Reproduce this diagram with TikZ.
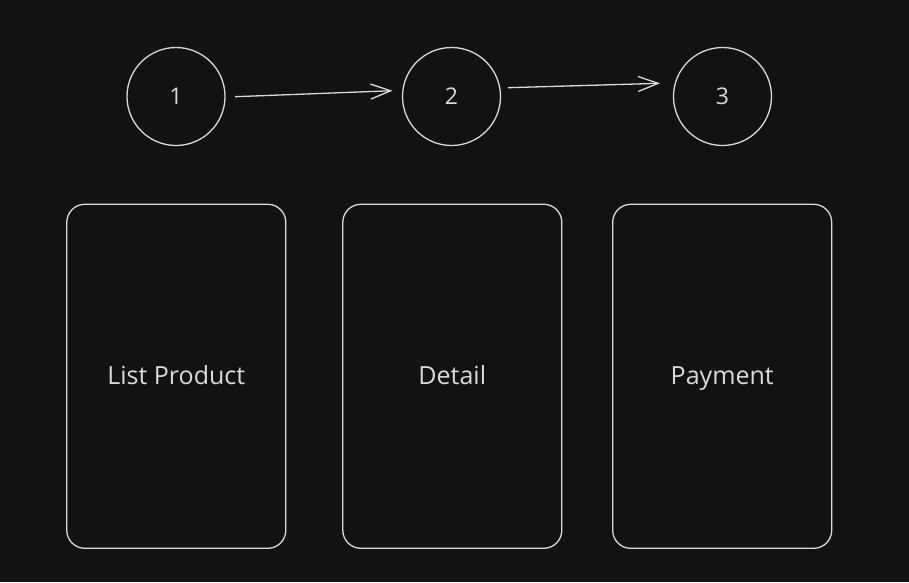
\documentclass[tikz,border=0pt]{standalone}
\usepackage{fontspec}
\setmainfont{Open Sans}
\usetikzlibrary{arrows.meta}
\definecolor{bg}{HTML}{121212}
\definecolor{ink}{HTML}{DADADA}
\begin{document}
\begin{tikzpicture}[x=1pt,y=-1pt,
  stepcircle/.style={draw=ink,line width=1.3pt,circle,minimum size=98pt,inner sep=0pt,text=ink,font=\fontsize{23}{27}\selectfont},
  screen/.style={draw=ink,line width=1.3pt,rounded corners=18pt,minimum width=219pt,minimum height=344pt,inner sep=0pt,text=ink,font=\fontsize{25}{30}\selectfont},
  label/.style={text=ink,font=\fontsize{25}{30}\selectfont,inner sep=0pt,anchor=base},
  flow/.style={draw=ink,line width=1.3pt,-{Straight Barb[length=20pt,width=15pt,line width=1.3pt]}}]
\fill[bg] (0,0) rectangle (909,582);
\useasboundingbox (0,0) rectangle (909,582);
\node[stepcircle] (c1) at (176,96.5) {1};
\node[stepcircle] (c2) at (451.5,96.5) {2};
\node[stepcircle] (c3) at (722.5,96.5) {3};
\coordinate (a1s) at (235,96.7);
\coordinate (a1e) at (392.5,90.7);
\coordinate (a2s) at (508,87.7);
\coordinate (a2e) at (660,83.3);
\draw[flow] (a1s) -- (a1e);
\draw[flow] (a2s) -- (a2e);
\node[screen] (r1) at (176.3,376.3) {};
\node[screen] (r2) at (452.3,376.3) {};
\node[screen] (r3) at (722.2,376.3) {};
\node[label] (t1) at (176.3,384) {List Product};
\node[label] (t2) at (452.3,384) {Detail};
\node[label] (t3) at (722.2,384) {Payment};
\end{tikzpicture}
\end{document}
